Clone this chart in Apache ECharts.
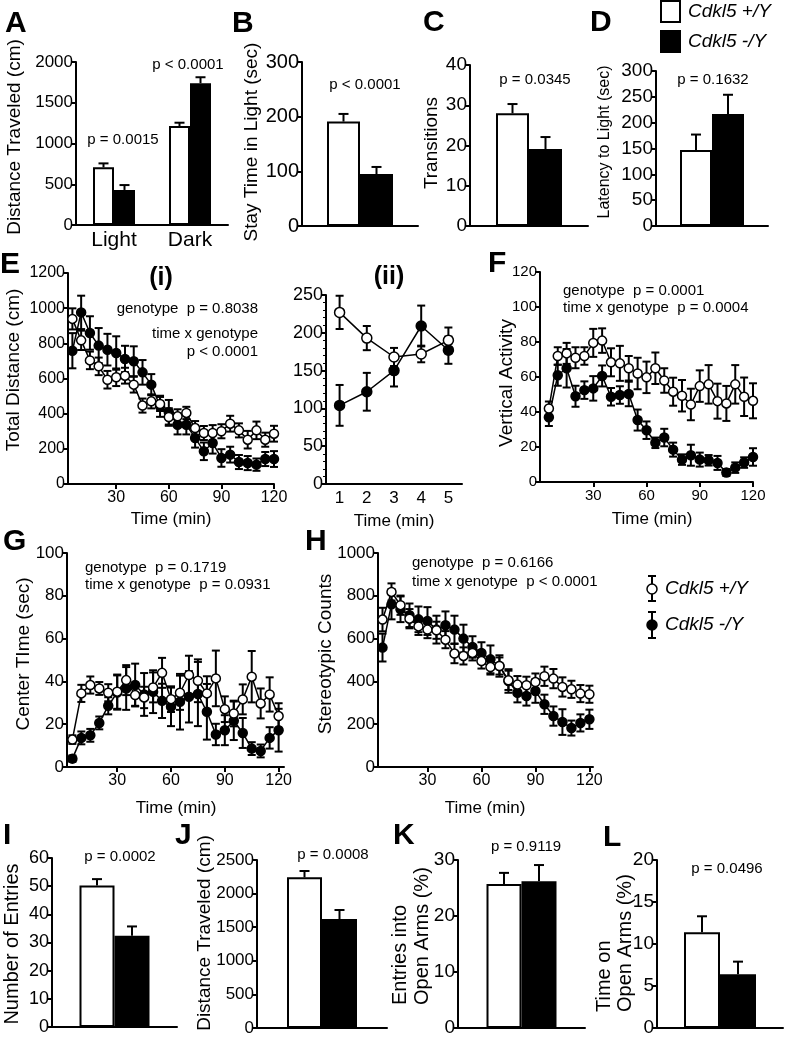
<!DOCTYPE html>
<html><head><meta charset="utf-8">
<script src="https://cdn.jsdelivr.net/npm/echarts@6/dist/echarts.min.js"></script>
<style>html,body{margin:0;padding:0;background:#fff}#c{width:785px;height:1039px}</style>
</head><body><div id="c"></div><script>
// ---------------- DATA ----------------
const genotypes = ['Cdkl5 +/Y', 'Cdkl5 -/Y'];
// A: light/dark box distance traveled
const aCats = ['Light', 'Dark'];
const aWT = [708, 1215], aWTErr = [48, 40];
const aKO = [430, 1740], aKOErr = [60, 73];
// B: stay time in light
const bWT = [191], bWTErr = [14], bKO = [95], bKOErr = [13];
// C: transitions
const cWT = [28], cWTErr = [2.3], cKO = [19.1], cKOErr = [3];
// D: latency to light
const dWT = [147], dWTErr = [30], dKO = [217], dKOErr = [37];
// I-L: elevated plus maze
const iWT = [50.2], iWTErr = [2.3], iKO = [32.4], iKOErr = [3.3];
const jWT = [2242], jWTErr = [94], jKO = [1622], jKOErr = [134];
const kWT = [25.7], kWTErr = [2], kKO = [26.2], kKOErr = [2.9];
const lWT = [11.4], lWTErr = [1.9], lKO = [6.4], lKOErr = [1.5];
// time course (min)
const timeMin = [5,10,15,20,25,30,35,40,45,50,55,60,65,70,75,80,85,90,95,100,105,110,115,120];
const timeTicks = [30, 60, 90, 120];
// E(i) total distance
const eWT = [939,817,703,669,593,607,616,565,446,470,455,381,385,404,318,290,290,300,343,305,252,305,252,286];
const eWTErr = [60,55,50,50,50,50,45,45,40,40,40,50,40,35,40,40,45,40,45,40,50,50,40,45];
const eKO = [758,976,859,787,764,745,711,698,635,565,442,408,337,337,262,186,233,148,167,125,119,110,142,142];
const eKOErr = [100,95,95,100,90,95,75,85,70,60,60,70,55,55,55,50,60,50,45,40,40,35,40,45];
// E(ii) first 5 minutes
const e2Cats = ['1','2','3','4','5'];
const e2WT = [227,193,168,172,190], e2WTErr = [22,16,12,11,17];
const e2KO = [104,122,150,209,177], e2KOErr = [27,25,21,27,18];
// F vertical activity
const fWT = [42,72,73.5,71,72,79.5,80.8,68.4,67.8,65,62,59.8,65,58,51.6,49.3,44.3,54.8,55.8,46.2,44.9,55.8,48.7,46.4];
const fWTErr = [4,5,6,6,5,8,7,8,10,7,9,9,9,7,8,9,9,9,11,10,10,11,11,10];
const fKO = [37,61,65,49,52.5,53.5,60.6,48.7,49.7,50.3,35.4,29.6,22.4,25.4,18.5,12.8,15.3,12.8,12.4,10.9,5.4,8.2,11.1,14.3];
const fKOErr = [5,6,11,6,5,7,6,5,5,7,6,5,3,5,4,3,6,4,3,4,2,3,3,5];
// G center time
const gWT = [12.8,34.4,38.3,36.7,34.7,35.2,40.6,33.6,32.5,37.2,44,31.7,34.7,43,40.3,34.4,41.4,27,25,31.6,42.2,29.7,33.9,23.8];
const gWTErr = [2,4,4,3,4,8,7,5,5,7,7,6,8,9,10,8,13,6,6,7,12,7,8,6];
const gKO = [3.9,13.6,14.8,20.6,28.6,34.8,36.7,38.3,33.9,35.2,30.9,28.1,30.5,32.8,34.1,25.8,15.2,17.2,21.6,15.9,8.6,7.5,13.6,17.2];
const gKOErr = [1.5,3,3,3,4,8,10,10,10,10,8,9,13,12,15,13,5,7,9,7,3,3,5,10];
// H stereotypic counts
const hWT = [689,818,756,693,657,642,639,595,530,519,533,495,467,472,405,385,382,397,424,413,374,363,343,340];
const hWTErr = [55,40,45,45,40,40,40,40,45,40,35,35,35,40,45,40,40,40,45,45,45,40,40,40];
const hKO = [558,760,737,709,690,682,642,662,642,600,561,533,503,472,402,347,332,355,293,238,210,182,206,223];
const hKOErr = [65,70,60,55,60,65,65,65,65,65,50,50,65,50,55,45,45,55,45,45,60,35,40,45];

// ---------------- BUILD ----------------
const FONT = "'Liberation Sans', Arial, Helvetica, sans-serif";
const grids = [], xAxes = [], yAxes = [], series = [], graphics = [];
const AX = {color: '#000', width: 2};

function yAxisCfg(gi, max, interval, fs, extra) {
  return Object.assign({
    type: 'value', gridIndex: gi, min: 0, max: max, interval: interval,
    axisLine: {show: true, lineStyle: AX},
    axisTick: {show: true, length: 5, lineStyle: AX},
    axisLabel: {color: '#000', fontFamily: FONT, fontSize: fs, margin: 3, formatter: v => String(v)},
    splitLine: {show: false}
  }, extra || {});
}

function barErr(gi, vals, errs, offset) {
  return {
    type: 'custom', xAxisIndex: gi, yAxisIndex: gi, z: 4, silent: true,
    data: vals.map((v, i) => [i, v, errs[i]]),
    renderItem: (params, api) => {
      const c = api.value(0), v = api.value(1), e = api.value(2);
      const p0 = api.coord([c, v]), p1 = api.coord([c, v + e]);
      const x = p0[0] + offset;
      const st = {stroke: '#000', lineWidth: 2};
      return {type: 'group', children: [
        {type: 'line', shape: {x1: x, y1: p0[1], x2: x, y2: p1[1]}, style: st},
        {type: 'line', shape: {x1: x - 5, y1: p1[1], x2: x + 5, y2: p1[1]}, style: st}
      ]};
    }
  };
}

function barPanel(p) {
  const gi = grids.length;
  grids.push({left: p.rect[0], top: p.rect[1], width: p.rect[2], height: p.rect[3]});
  xAxes.push({type: 'category', gridIndex: gi, data: p.cats,
    axisLine: {lineStyle: AX}, axisTick: {show: false},
    axisLabel: {show: !!p.catFont, color: '#000', fontFamily: FONT, fontSize: p.catFont || 12, margin: 5}});
  yAxes.push(yAxisCfg(gi, p.max, p.interval, p.fs));
  const common = {type: 'bar', xAxisIndex: gi, yAxisIndex: gi, barWidth: p.barW, barGap: '0%', silent: true};
  series.push(Object.assign({}, common, {name: genotypes[0], data: p.wt,
    itemStyle: {color: '#fff', borderColor: '#000', borderWidth: 2}}));
  series.push(Object.assign({}, common, {name: genotypes[1], data: p.ko,
    itemStyle: {color: '#000', borderColor: '#000', borderWidth: 2}}));
  series.push(barErr(gi, p.wt, p.wtErr, -p.barW / 2));
  series.push(barErr(gi, p.ko, p.koErr, p.barW / 2));
}

function lineErr(gi, xs, vals, errs, cap) {
  return {
    type: 'custom', xAxisIndex: gi, yAxisIndex: gi, z: 2, silent: true,
    data: vals.map((v, i) => [xs[i], v, errs[i]]),
    renderItem: (params, api) => {
      const x = api.value(0), v = api.value(1), e = api.value(2);
      const t = api.coord([x, v + e]), b = api.coord([x, v - e]);
      const st = {stroke: '#000', lineWidth: 2};
      return {type: 'group', children: [
        {type: 'line', shape: {x1: t[0], y1: t[1], x2: b[0], y2: b[1]}, style: st},
        {type: 'line', shape: {x1: t[0] - cap, y1: t[1], x2: t[0] + cap, y2: t[1]}, style: st},
        {type: 'line', shape: {x1: b[0] - cap, y1: b[1], x2: b[0] + cap, y2: b[1]}, style: st}
      ]};
    }
  };
}

function linePanel(p) {
  const gi = grids.length;
  grids.push({left: p.rect[0], top: p.rect[1], width: p.rect[2], height: p.rect[3]});
  let xs;
  if (p.cats) {
    xs = p.cats.map((c, i) => i);
    xAxes.push({type: 'category', gridIndex: gi, data: p.cats, boundaryGap: true,
      axisLine: {lineStyle: AX}, axisTick: {length: 5, lineStyle: AX},
      axisLabel: {color: '#000', fontFamily: FONT, fontSize: p.xfs, margin: 6}});
  } else {
    xs = timeMin;
    xAxes.push({type: 'value', gridIndex: gi, min: p.xMin, max: p.xMax,
      axisLine: {lineStyle: AX},
      axisTick: {customValues: timeTicks, length: 5, lineStyle: AX},
      axisLabel: {customValues: timeTicks, color: '#000', fontFamily: FONT, fontSize: p.xfs, margin: 6},
      splitLine: {show: false}});
  }
  yAxes.push(yAxisCfg(gi, p.max, p.interval, p.fs, p.minor ? {minorTick: {show: true, splitNumber: 5, length: 3, lineStyle: {color: '#000', width: 1}}} : null));
  series.push(lineErr(gi, xs, p.ko, p.koErr, p.cap));
  series.push(lineErr(gi, xs, p.wt, p.wtErr, p.cap));
  const common = {type: 'line', xAxisIndex: gi, yAxisIndex: gi, symbol: 'circle', symbolSize: p.sym,
    showSymbol: true, showAllSymbol: true, silent: true, lineStyle: {color: '#000', width: 1.5}};
  series.push(Object.assign({}, common, {name: genotypes[1], z: 3, data: p.ko.map((v, i) => [xs[i], v]),
    itemStyle: {color: '#000', borderColor: '#000', borderWidth: 1.5}}));
  series.push(Object.assign({}, common, {name: genotypes[0], z: 4, data: p.wt.map((v, i) => [xs[i], v]),
    itemStyle: {color: '#fff', borderColor: '#000', borderWidth: 1.5}}));
}

function txt(x, y, text, o) {
  o = o || {};
  graphics.push({type: 'text', x: x, y: y, rotation: o.rot || 0, z: 100, silent: true,
    style: {text: text, fill: '#000', fontFamily: FONT, fontSize: o.fs || 15,
      fontWeight: o.fw || 'normal', fontStyle: o.fst || 'normal',
      align: o.align || 'center', verticalAlign: o.va || 'middle'}});
}
const ylab = (x, y, t, fs, align) => txt(x, y, t, {rot: Math.PI / 2, fs: fs || 19, align: align || 'center'});
const letter = (x, y, t) => txt(x, y, t, {fs: 30, fw: 'bold', align: 'left'});

// panels
barPanel({rect: [76, 62, 152, 163], cats: aCats, catFont: 21, wt: aWT, wtErr: aWTErr, ko: aKO, koErr: aKOErr, max: 2000, interval: 500, fs: 17, barW: 21});
barPanel({rect: [302, 62, 116, 164], cats: [''], wt: bWT, wtErr: bWTErr, ko: bKO, koErr: bKOErr, max: 300, interval: 100, fs: 20, barW: 33});
barPanel({rect: [470, 65, 118, 161], cats: [''], wt: cWT, wtErr: cWTErr, ko: cKO, koErr: cKOErr, max: 40, interval: 10, fs: 19, barW: 33});
barPanel({rect: [656, 71, 112, 155], cats: [''], wt: dWT, wtErr: dWTErr, ko: dKO, koErr: dKOErr, max: 300, interval: 50, fs: 19, barW: 32});

linePanel({rect: [68, 273, 206, 211], xMin: 2.5, xMax: 120, max: 1200, interval: 200, fs: 16, xfs: 16, wt: eWT, wtErr: eWTErr, ko: eKO, koErr: eKOErr, cap: 4, sym: 9});
linePanel({rect: [326, 295, 136, 189], cats: e2Cats, max: 250, interval: 50, fs: 18, xfs: 17, wt: e2WT, wtErr: e2WTErr, ko: e2KO, koErr: e2KOErr, cap: 4, sym: 10, minor: true});
linePanel({rect: [540, 272, 213, 210], xMin: 0, xMax: 120, max: 120, interval: 20, fs: 15, xfs: 15, wt: fWT, wtErr: fWTErr, ko: fKO, koErr: fKOErr, cap: 4, sym: 9});
linePanel({rect: [67, 553, 217, 214], xMin: 2, xMax: 123, max: 100, interval: 20, fs: 17, xfs: 16, wt: gWT, wtErr: gWTErr, ko: gKO, koErr: gKOErr, cap: 4, sym: 9});
linePanel({rect: [378, 553, 215, 214], xMin: 2.5, xMax: 122, max: 1000, interval: 200, fs: 17, xfs: 16, wt: hWT, wtErr: hWTErr, ko: hKO, koErr: hKOErr, cap: 4, sym: 9});

barPanel({rect: [52, 858, 125, 169], cats: [''], wt: iWT, wtErr: iWTErr, ko: iKO, koErr: iKOErr, max: 60, interval: 10, fs: 18, barW: 35});
barPanel({rect: [257, 860, 130, 168], cats: [''], wt: jWT, wtErr: jWTErr, ko: jKO, koErr: jKOErr, max: 2500, interval: 500, fs: 17, barW: 35});
barPanel({rect: [458, 860, 127, 168], cats: [''], wt: kWT, wtErr: kWTErr, ko: kKO, koErr: kKOErr, max: 30, interval: 10, fs: 19, barW: 35});
barPanel({rect: [657, 860, 126, 168], cats: [''], wt: lWT, wtErr: lWTErr, ko: lKO, koErr: lKOErr, max: 20, interval: 5, fs: 19, barW: 36});

// panel letters
letter(5, 24, 'A'); letter(232, 24, 'B'); letter(423, 23, 'C'); letter(590, 23, 'D');
letter(0, 265, 'E'); letter(488, 264, 'F'); letter(3, 542, 'G'); letter(305, 542, 'H');
letter(3, 836, 'I'); letter(175, 836, 'J'); letter(393, 836, 'K'); letter(603, 838, 'L');
txt(161, 278, '(i)', {fs: 25, fw: 'bold'});
txt(389, 277, '(ii)', {fs: 25, fw: 'bold'});

// y-axis titles
ylab(15, 137, 'Distance Traveled (cm)');
ylab(252, 142, 'Stay Time in Light (sec)');
ylab(432, 143, 'Transitions');
ylab(605, 142, 'Latency to Light (sec)', 16);
ylab(14, 370, 'Total Distance (cm)');
ylab(507, 383, 'Vertical Activity');
ylab(24, 654, 'Center TIme (sec)');
ylab(326, 654, 'Stereotypic Counts');
ylab(12, 944, 'Number of Entries', 20);
ylab(205, 933, 'Distance Traveled (cm)');
ylab(400, 1005, 'Entries into', 20, 'left');
ylab(422, 1005, 'Open Arms (%)', 20, 'left');
ylab(604, 1012, 'Time on', 20, 'left');
ylab(625, 1012, 'Open Arms (%)', 20, 'left');

// x-axis titles
txt(171, 519, 'Time (min)', {fs: 17});
txt(394, 521, 'Time (min)', {fs: 17});
txt(652, 519, 'Time (min)', {fs: 17});
txt(176, 808, 'Time (min)', {fs: 17});
txt(485, 808, 'Time (min)', {fs: 17});

// p-values
txt(123, 140, 'p = 0.0015'); txt(188, 65, 'p < 0.0001');
txt(365, 85, 'p < 0.0001'); txt(535, 80, 'p = 0.0345'); txt(713, 80, 'p = 0.1632');
txt(120, 857, 'p = 0.0002'); txt(333, 855, 'p = 0.0008'); txt(526, 847, 'p = 0.9119'); txt(727, 869, 'p = 0.0496');
txt(258, 309, 'genotype  p = 0.8038', {align: 'right'});
txt(258, 334, 'time x genotype', {align: 'right'});
txt(258, 352, 'p < 0.0001', {align: 'right'});
txt(563, 291, 'genotype  p = 0.0001', {align: 'left'});
txt(563, 308, 'time x genotype  p = 0.0004', {align: 'left'});
txt(85, 568, 'genotype  p = 0.1719', {align: 'left'});
txt(85, 585, 'time x genotype  p = 0.0931', {align: 'left'});
txt(412, 563, 'genotype  p = 0.6166', {align: 'left'});
txt(412, 582, 'time x genotype  p < 0.0001', {align: 'left'});

// top legend (bars)
graphics.push({type: 'rect', shape: {x: 661, y: 1, width: 19, height: 21}, style: {fill: '#fff', stroke: '#000', lineWidth: 2}, z: 100});
graphics.push({type: 'rect', shape: {x: 660, y: 30, width: 21, height: 23}, style: {fill: '#000'}, z: 100});
txt(688, 12, genotypes[0], {fs: 19, fst: 'italic', align: 'left'});
txt(688, 42, genotypes[1], {fs: 19, fst: 'italic', align: 'left'});
// middle legend (lines)
function legErr(cx, y1, y2, cy, fill) {
  const st = {stroke: '#000', lineWidth: 2};
  graphics.push({type: 'line', shape: {x1: cx, y1: y1, x2: cx, y2: y2}, style: st, z: 100});
  graphics.push({type: 'line', shape: {x1: cx - 4, y1: y1, x2: cx + 4, y2: y1}, style: st, z: 100});
  graphics.push({type: 'line', shape: {x1: cx - 4, y1: y2, x2: cx + 4, y2: y2}, style: st, z: 100});
  graphics.push({type: 'circle', shape: {cx: cx, cy: cy, r: 5}, style: {fill: fill, stroke: '#000', lineWidth: 1.5}, z: 101});
}
legErr(652, 576, 601, 589, '#fff');
legErr(652, 612, 638, 625, '#000');
txt(665, 589, genotypes[0], {fs: 19, fst: 'italic', align: 'left'});
txt(665, 625, genotypes[1], {fs: 19, fst: 'italic', align: 'left'});

const chart = echarts.init(document.getElementById('c'), null, {renderer: 'canvas'});
chart.setOption({
  animation: false, backgroundColor: '#fff',
  grid: grids, xAxis: xAxes, yAxis: yAxes, series: series,
  graphic: {elements: graphics}
});
</script></body></html>
